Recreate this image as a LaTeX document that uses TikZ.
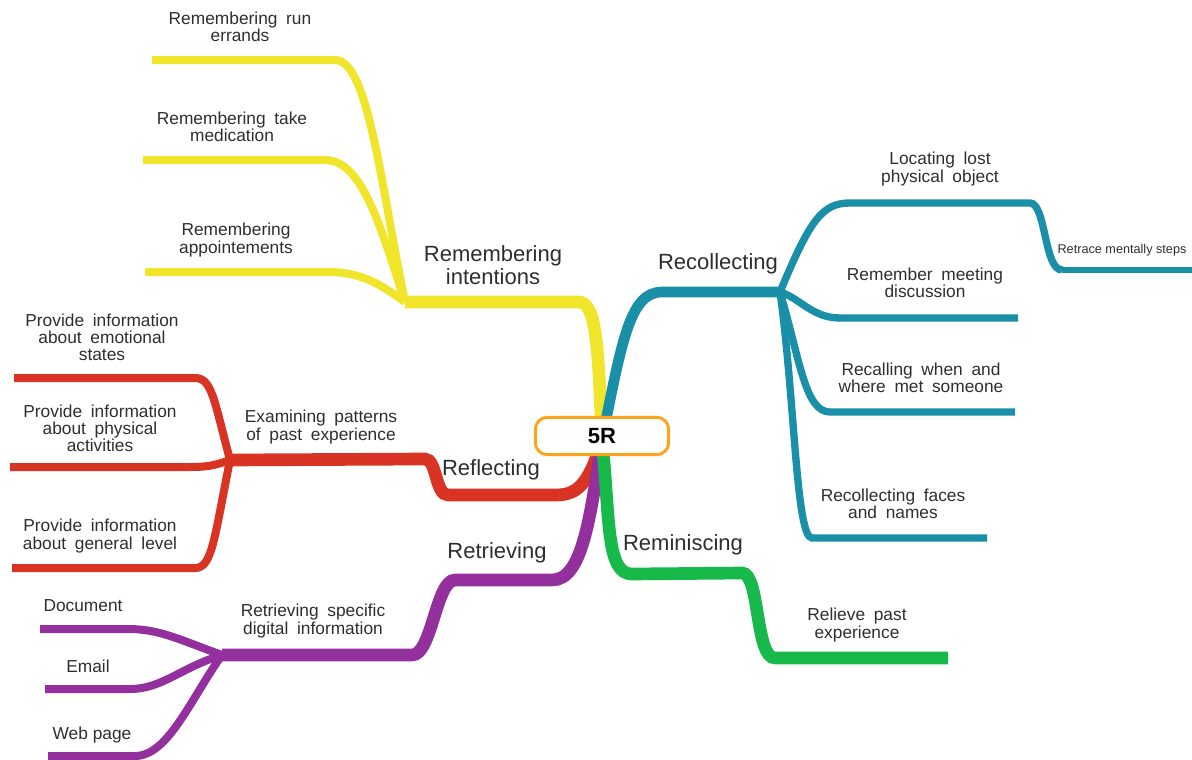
\documentclass[tikz,border=0pt]{standalone}
\usepackage{fontspec}
\setmainfont{Liberation Sans}
\definecolor{cyel}{HTML}{F0E52A}
\definecolor{cred}{HTML}{D93323}
\definecolor{cpur}{HTML}{93309E}
\definecolor{cgrn}{HTML}{17B94A}
\definecolor{cteal}{HTML}{1A8FA8}
\definecolor{corg}{HTML}{FFA31A}
\definecolor{ctxt}{HTML}{2E2E2E}
\begin{document}
\begin{tikzpicture}[x=0.75pt,y=-0.75pt,
  mainbr/.style={line width=9.5pt},
  subbr/.style={line width=6pt},
  tinybr/.style={line width=4pt},
  small/.style={align=center,text=ctxt,inner sep=0pt,
    font={\fontsize{13}{12.8}\selectfont\spaceskip=0.5em\relax}},
  plain/.style={align=center,text=ctxt,inner sep=0pt,
    font={\fontsize{13}{12.8}\selectfont}},
  big/.style={align=center,text=ctxt,inner sep=0pt,
    font={\fontsize{16.5}{17.5}\selectfont}},
  tiny/.style={align=center,text=ctxt,inner sep=0pt,font={\fontsize{9.5}{10}\selectfont}},
  rootbox/.style={draw=corg,line width=2.2pt,fill=white,rounded corners=9pt,
    minimum width=100pt,minimum height=28pt,font={\fontsize{16.5}{17}\selectfont\bfseries}}
]
\useasboundingbox (0,0) rectangle (1192,760);
% coordinates
\coordinate (r) at (602,440);
\coordinate (yc) at (578,302);
\coordinate (yJ) at (405,302);
\coordinate (y1) at (335,60);  \coordinate (y1e) at (152,60);
\coordinate (y2) at (325,160); \coordinate (y2e) at (143,160);
\coordinate (y3) at (328,272); \coordinate (y3e) at (145,272);
\coordinate (rc) at (555,495);
\coordinate (rd) at (448,495);
\coordinate (re) at (425,459);
\coordinate (rJ) at (230,460);
\coordinate (r1) at (195,378); \coordinate (r1e) at (14,378);
\coordinate (r2) at (190,467); \coordinate (r2e) at (10,467);
\coordinate (r3) at (195,568); \coordinate (r3e) at (12,568);
\coordinate (pc) at (552,580);
\coordinate (pd) at (455,580);
\coordinate (pe) at (412,655);
\coordinate (pJ) at (222,655);
\coordinate (p1) at (128,629); \coordinate (p1e) at (40,629);
\coordinate (p2) at (130,689); \coordinate (p2e) at (45,689);
\coordinate (p3) at (135,756); \coordinate (p3e) at (48,756);
\coordinate (gc) at (632,574);
\coordinate (gd) at (742,573);
\coordinate (ge) at (775,658);
\coordinate (gf) at (948,658);
\coordinate (tc) at (662,292);
\coordinate (tJ) at (780,292);
\coordinate (t1) at (850,203); \coordinate (t1e) at (1030,203);
\coordinate (t1f) at (1062,270); \coordinate (t1g) at (1192,270);
\coordinate (t2) at (840,318); \coordinate (t2e) at (1018,318);
\coordinate (t3) at (830,412); \coordinate (t3e) at (1015,412);
\coordinate (t4) at (812,538); \coordinate (t4e) at (987,538);

% yellow
\draw[cyel,mainbr] (r) .. controls (598,340) and (596,302) .. (yc) -- (yJ);
\draw[cyel,subbr] (yJ) .. controls (380,180) and (368,60) .. (y1) -- (y1e);
\draw[cyel,subbr] (yJ) .. controls (380,225) and (362,160) .. (y2) -- (y2e);
\draw[cyel,subbr] (yJ) .. controls (385,288) and (365,272) .. (y3) -- (y3e);
% teal
\draw[cteal,line width=8pt] (r) .. controls (622,340) and (630,292) .. (tc) -- (tJ);
\draw[cteal,line width=5.5pt] (tJ) .. controls (810,220) and (822,203) .. (t1) -- (t1e)
   .. controls (1046,203) and (1044,270) .. (t1f);
\draw[cteal,tinybr] (t1f) -- (t1g);
\draw[cteal,line width=5.5pt] (tJ) .. controls (800,298) and (812,318) .. (t2) -- (t2e);
\draw[cteal,line width=5.5pt] (tJ) .. controls (800,360) and (805,412) .. (t3) -- (t3e);
\draw[cteal,line width=5.5pt] (tJ) .. controls (795,400) and (796,538) .. (t4) -- (t4e);
% red
\draw[cred,mainbr] (r) .. controls (588,488) and (575,495) .. (rc) -- (rd)
   .. controls (435,495) and (437,459) .. (re) -- (rJ);
\draw[cred,subbr] (rJ) .. controls (214,400) and (212,378) .. (r1) -- (r1e);
\draw[cred,subbr] (rJ) .. controls (214,466) and (205,467) .. (r2) -- (r2e);
\draw[cred,subbr] (rJ) .. controls (214,540) and (212,568) .. (r3) -- (r3e);
% purple
\draw[cpur,mainbr] (r) .. controls (590,520) and (582,580) .. (pc) -- (pd)
   .. controls (436,580) and (432,655) .. (pe) -- (pJ);
\draw[cpur,subbr] (pJ) .. controls (180,640) and (160,629) .. (p1) -- (p1e);
\draw[cpur,subbr] (pJ) .. controls (180,668) and (162,689) .. (p2) -- (p2e);
\draw[cpur,subbr] (pJ) .. controls (190,700) and (168,756) .. (p3) -- (p3e);
% green
\draw[cgrn,mainbr] (r) .. controls (610,520) and (606,574) .. (gc) -- (gd)
   .. controls (760,573) and (755,658) .. (ge) -- (gf);

% root
\node[rootbox] (root) at (602,436) {5R};

% labels
\node[small] (ly1) at (240,27) {Remembering run\\errands};
\node[small] (ly2) at (232,127) {Remembering take\\medication};
\node[small] (ly3) at (236,240) {Remembering\\appointements};
\node[big] (lyM) at (493,265) {Remembering\\intentions};
\node[small] (lr1) at (102,337) {Provide information\\about emotional\\states};
\node[small] (lr2) at (100,428) {Provide information\\about physical\\activities};
\node[small] (lr3) at (100,536) {Provide information\\about general level};
\node[small] (lrS) at (321,427) {Examining patterns\\of past experience};
\node[big] (lrM) at (491,470) {Reflecting};
\node[big] (lpM) at (497,553) {Retrieving};
\node[small] (lpS) at (313,621) {Retrieving specific\\digital information};
\node[plain] (lp1) at (83,606) {Document};
\node[plain] (lp2) at (88,666) {Email};
\node[plain] (lp3) at (92,735) {Web page};
\node[big] (lgM) at (683,545) {Reminiscing};
\node[small] (lg1) at (857,625) {Relieve past\\experience};
\node[big] (ltM) at (718,264) {Recollecting};
\node[small] (lt1) at (940,169) {Locating lost\\physical object};
\node[tiny] (lt1a) at (1122,250) {Retrace mentally steps};
\node[small] (lt2) at (925,283) {Remember meeting\\discussion};
\node[small] (lt3) at (921,378) {Recalling when and\\where met someone};
\node[small] (lt4) at (893,504) {Recollecting faces\\and names};
\end{tikzpicture}
\end{document}
